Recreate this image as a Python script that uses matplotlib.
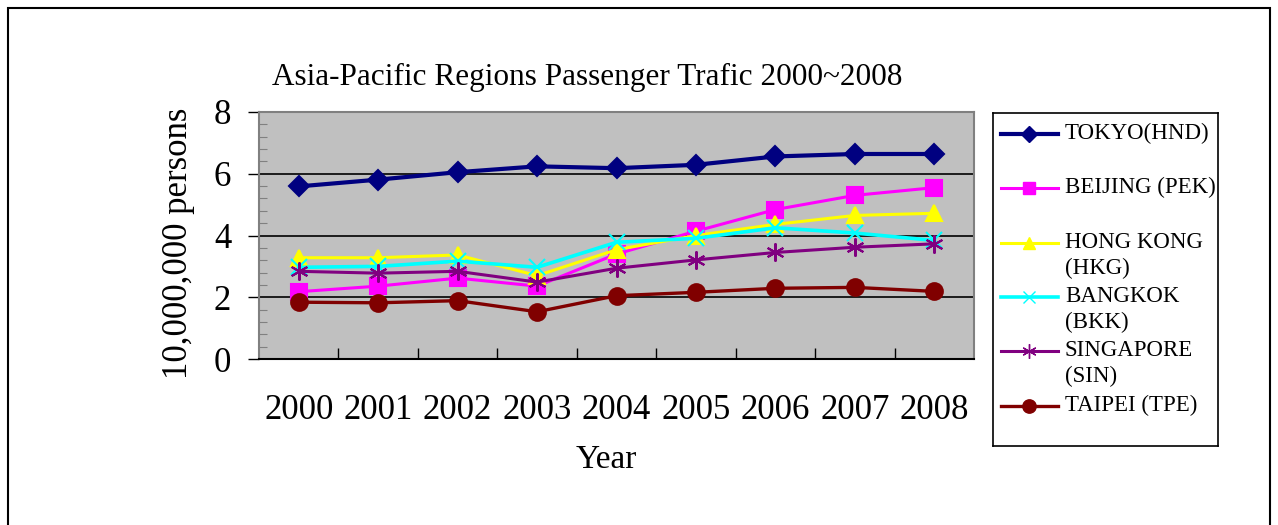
import matplotlib.pyplot as plt
from matplotlib.patches import Rectangle
from matplotlib.ticker import MultipleLocator

plt.rcParams['font.family'] = ['Liberation Serif', 'DejaVu Serif']

# passenger traffic, unit = 10,000,000 persons
years = ["2000", "2001", "2002", "2003", "2004", "2005", "2006", "2007", "2008"]
tokyo = [5.59, 5.81, 6.05, 6.24, 6.18, 6.29, 6.56, 6.64, 6.64]
beijing = [2.18, 2.36, 2.62, 2.36, 3.40, 4.14, 4.84, 5.30, 5.55]
hong_kong = [3.28, 3.28, 3.37, 2.70, 3.54, 4.00, 4.36, 4.65, 4.72]
bangkok = [2.97, 3.00, 3.17, 2.97, 3.78, 3.91, 4.25, 4.08, 3.84]
singapore = [2.84, 2.78, 2.84, 2.49, 2.94, 3.21, 3.45, 3.62, 3.73]
taipei = [1.84, 1.82, 1.89, 1.53, 2.05, 2.16, 2.29, 2.32, 2.19]

series = [
    ("TOKYO(HND)", tokyo, "#000080", "D", 10, 3.0),
    ("BEIJING (PEK)", beijing, "#FF00FF", "s", 11, 2.2),
    ("HONG KONG\n(HKG)", hong_kong, "#FFFF00", "^", 11, 2.2),
    ("BANGKOK\n(BKK)", bangkok, "#00FFFF", "x", 11, 2.6),
    ("SINGAPORE\n(SIN)", singapore, "#800080", (6, 2, 0), 13, 2.2),
    ("TAIPEI (TPE)", taipei, "#800000", "o", 12, 2.4),
]

fig = plt.figure(figsize=(12.78, 5.25), dpi=100)

# outer chart frame
fig.patches.append(Rectangle((8 / 1278, -0.1), 1262 / 1278, 1.1 - 8 / 525,
                             transform=fig.transFigure, fill=False,
                             edgecolor="black", linewidth=1.5))

ax = fig.add_axes([259 / 1278, 1 - 359 / 525, 715 / 1278, 247 / 525])
ax.set_facecolor("#C0C0C0")

x = list(range(len(years)))
for label, vals, color, marker, ms, lw in series:
    ax.plot(x, vals, color=color, linewidth=lw, marker=marker, markersize=ms,
            markeredgecolor=color, markerfacecolor=color, markeredgewidth=1.5)

ax.set_xlim(-0.5, len(years) - 0.5)
ax.set_ylim(0, 8)
ax.set_yticks([0, 2, 4, 6, 8])
ax.yaxis.set_minor_locator(MultipleLocator(0.4))
ax.set_xticks(x)
ax.set_xticklabels(years)
ax.set_xticks([i + 0.5 for i in x[:-1]], minor=True)

for yv in [2, 4, 6]:
    ax.axhline(yv, color="black", linewidth=1.2, zorder=1)

ax.tick_params(axis="y", which="major", direction="out", length=8, width=1,
               labelsize=25, pad=12)
ax.tick_params(axis="y", which="minor", direction="in", length=6, width=0.8,
               color="#808080")
ax.tick_params(axis="x", which="major", length=0, labelsize=25, pad=25)
ax.tick_params(axis="x", which="minor", direction="in", length=8, width=1,
               color="black")

for side in ["top", "right", "left"]:
    ax.spines[side].set_color("#808080")
    ax.spines[side].set_linewidth(1.5)
ax.spines["bottom"].set_color("black")
ax.spines["bottom"].set_linewidth(1.5)

fig.text(587 / 1278, 1 - 77 / 525, "Asia-Pacific Regions Passenger Trafic 2000~2008",
         ha="center", va="center", fontsize=22.5)
fig.text(606 / 1278, 1 - 460 / 525, "Year", ha="center", va="center", fontsize=24)
fig.text(178 / 1278, 1 - 108 / 525, "10,000,000 persons", ha="center", va="top",
         rotation=90, fontsize=25)

# legend box drawn by hand so wrapped names hang below their marker
leg = fig.add_axes([993 / 1278, 1 - 446 / 525, 225 / 1278, 333 / 525])
leg.set_xlim(0, 225)
leg.set_ylim(333, 0)
leg.set_xticks([])
leg.set_yticks([])
for s in leg.spines.values():
    s.set_color("black")
    s.set_linewidth(1.2)
for i, (label, vals, color, marker, ms, lw) in enumerate(series):
    yrow = 21 + i * 54.3
    leg.plot([8, 36, 65], [yrow] * 3, color=color, linewidth=lw, marker=marker,
             markersize=ms * 0.8, markevery=[1], markeredgecolor=color,
             markerfacecolor=color)
    leg.text(72, yrow - 11, label, ha="left", va="top", fontsize=16.5,
             linespacing=1.3)

fig.savefig("out.png", dpi=100)
